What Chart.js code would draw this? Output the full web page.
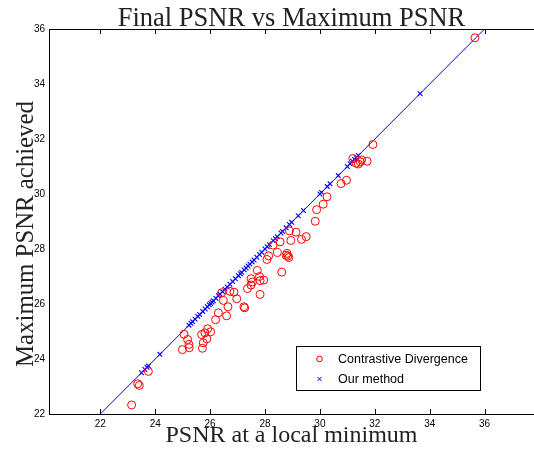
<!DOCTYPE html>
<html>
<head>
<meta charset="utf-8">
<script src="https://cdn.jsdelivr.net/npm/chart.js@4.4.1/dist/chart.umd.min.js"></script>
<style>
  html, body { margin: 0; padding: 0; background: #fff; }
  canvas { display: block; }
</style>
</head>
<body>
<canvas id="c" width="534" height="449"></canvas>
<script>
// ---- Data ----
const chartTitle = 'Final PSNR vs Maximum PSNR';
const xAxisTitle = 'PSNR at a local minimum';
const yAxisTitle = 'Maximum PSNR achieved';
const seriesNames = ['Contrastive Divergence', 'Our method'];

// Contrastive Divergence: PSNR at local minimum (x) and max PSNR achieved (y)
const cdFinal = [23.14, 23.36, 23.42, 23.75, 24.99, 25.05, 25.18, 25.23, 25.24, 25.69, 25.72, 25.75, 25.81, 25.88, 25.91, 26.02,
  26.20, 26.30, 26.60, 26.65, 26.42, 26.48, 26.72, 26.87, 26.97, 27.23, 27.26, 27.36, 27.49, 27.49, 27.54,
  27.72, 27.82, 27.82, 27.80, 27.95, 28.07, 28.13, 28.45, 28.61, 28.77, 28.83, 28.87, 28.80,
  28.29, 28.55, 28.89, 29.13, 28.94, 29.33, 29.50, 29.83, 29.88, 30.12, 30.26, 30.77, 30.97,
  31.20, 31.32, 31.40, 31.47, 31.52, 31.72, 31.93, 35.65];
const cdMax = [22.33, 23.10, 23.04, 23.55, 24.34, 24.90, 24.71, 24.53, 24.41, 24.89, 24.39, 24.59, 24.95, 24.73, 25.10, 24.99,
  25.43, 25.68, 25.57, 25.90, 26.41, 26.13, 26.46, 26.43, 26.19, 25.90, 25.86, 26.56, 26.69, 26.92, 26.80,
  27.22, 26.35, 26.85, 27.00, 26.87, 27.62, 27.75, 27.87, 27.16, 27.77, 27.74, 27.69, 27.84,
  28.14, 28.26, 28.66, 28.61, 28.31, 28.35, 28.45, 29.01, 29.43, 29.63, 29.90, 30.38, 30.50,
  31.29, 31.12, 31.09, 31.17, 31.24, 31.19, 31.80, 35.68];

// Our method: final PSNR equals the maximum reached
const ourFinal = [23.50, 23.62, 23.70, 23.75, 24.17, 25.23, 25.30, 25.36, 25.45, 25.55, 25.62, 25.73, 25.82, 25.90, 25.97,
  26.02, 26.07, 26.12, 26.21, 26.30, 26.36, 26.45, 26.54, 26.62, 26.72, 26.82, 26.92, 27.03, 27.10, 27.15, 27.24,
  27.31, 27.38, 27.45, 27.53, 27.60, 27.70, 27.80, 27.88, 28.00, 28.08, 28.16, 28.30, 28.38, 28.45, 28.58, 28.64,
  28.77, 28.89, 28.97, 29.21, 29.40, 30.00, 30.06, 30.27, 30.37, 30.67, 31.00, 31.10, 31.19, 31.26, 31.32, 31.40, 33.65];
const ourMax = ourFinal.slice();

// Reference line y = x
const refLine = [22, 36];

const xTickValues = [22, 24, 26, 28, 30, 32, 34, 36];
const yTickValues = [22, 24, 26, 28, 30, 32, 34, 36];

// ---- Styling ----
const SERIF = '"Liberation Serif", "Times New Roman", Times, serif';
const SANS = '"Liberation Sans", Arial, Helvetica, sans-serif';
const RED = '#ff0000';
const BLUE = '#0000ff';

const toPts = (xs, ys) => xs.map((x, i) => ({ x: x, y: ys[i] }));

const framePlugin = {
  id: 'frame',
  afterDatasetsDraw(chart) {
    const { ctx, chartArea: a, scales } = chart;
    ctx.save();
    ctx.strokeStyle = '#000';
    ctx.lineWidth = 1;
    ctx.beginPath();
    // top border
    ctx.moveTo(a.left, a.top + 0.5);
    ctx.lineTo(a.right, a.top + 0.5);
    // inward ticks on bottom and top
    xTickValues.forEach(v => {
      const px = Math.round(scales.x.getPixelForValue(v)) + 0.5;
      ctx.moveTo(px, a.bottom);
      ctx.lineTo(px, a.bottom - 5);
      ctx.moveTo(px, a.top);
      ctx.lineTo(px, a.top + 5);
    });
    ctx.stroke();
    ctx.restore();
  },
  afterDraw(chart) {
    const { ctx } = chart;
    ctx.save();
    // y axis title
    ctx.fillStyle = '#222';
    ctx.font = '24.8px ' + SERIF;
    ctx.textAlign = 'center';
    ctx.textBaseline = 'alphabetic';
    ctx.translate(33, 234);
    ctx.rotate(-Math.PI / 2);
    ctx.fillText(yAxisTitle, 0, 0);
    ctx.restore();

    // legend
    ctx.save();
    const bx = 296.5, by = 346.5, bw = 184, bh = 44;
    ctx.fillStyle = '#fff';
    ctx.fillRect(bx, by, bw, bh);
    ctx.strokeStyle = '#000';
    ctx.lineWidth = 1;
    ctx.strokeRect(bx, by, bw, bh);
    ctx.font = '12.5px ' + SANS;
    ctx.fillStyle = '#000';
    ctx.textAlign = 'left';
    ctx.textBaseline = 'middle';
    const ds = chart.data.datasets;
    ctx.strokeStyle = RED;
    ctx.beginPath();
    ctx.arc(319.5, 359, 2.8, 0, Math.PI * 2);
    ctx.stroke();
    ctx.fillText(ds[0].label, 338, 359.5);
    ctx.strokeStyle = BLUE;
    ctx.beginPath();
    ctx.moveTo(317.5, 377); ctx.lineTo(321.5, 381);
    ctx.moveTo(321.5, 377); ctx.lineTo(317.5, 381);
    ctx.stroke();
    ctx.fillText(ds[1].label, 338, 379.5);
    ctx.restore();
  }
};

new Chart(document.getElementById('c'), {
  type: 'scatter',
  data: {
    datasets: [
      {
        label: seriesNames[0],
        data: toPts(cdFinal, cdMax),
        pointStyle: 'circle',
        pointRadius: 4,
        pointBorderWidth: 1,
        borderColor: RED,
        backgroundColor: 'rgba(0,0,0,0)',
        pointBackgroundColor: 'rgba(0,0,0,0)',
        pointBorderColor: RED,
        showLine: false
      },
      {
        label: seriesNames[1],
        data: toPts(ourFinal, ourMax),
        pointStyle: 'crossRot',
        pointRadius: 3.3,
        pointBorderWidth: 1.1,
        borderColor: BLUE,
        pointBorderColor: BLUE,
        backgroundColor: BLUE,
        showLine: false
      },
      {
        label: 'y = x',
        data: toPts(refLine, refLine),
        showLine: true,
        borderColor: BLUE,
        borderWidth: 1,
        pointRadius: 0,
        fill: false
      }
    ]
  },
  options: {
    responsive: false,
    animation: false,
    devicePixelRatio: 1,
    layout: { padding: 0, autoPadding: false },
    plugins: {
      legend: { display: false },
      tooltip: { enabled: false },
      title: {
        display: true,
        text: chartTitle,
        color: '#222',
        fullSize: false,
        font: { family: SERIF, size: 26.5, weight: 'normal', lineHeight: 1 },
        padding: { top: 6, bottom: -3.5 }
      }
    },
    scales: {
      x: {
        type: 'linear',
        position: 'bottom',
        min: 20.13,
        max: 37.8,
        afterBuildTicks: s => { s.ticks = xTickValues.map(v => ({ value: v })); },
        afterFit: s => { s.height = 35; s.paddingLeft = 0; s.paddingRight = 0; },
        grid: { display: false, drawTicks: false },
        border: { display: true, color: '#000', width: 1 },
        ticks: {
          color: '#000',
          font: { family: SANS, size: 10 },
          padding: 4,
          maxRotation: 0,
          autoSkip: false,
          callback: v => String(v)
        },
        title: {
          display: true,
          text: xAxisTitle,
          color: '#222',
          font: { family: SERIF, size: 24, weight: 'normal', lineHeight: 1.08 },
          padding: 0
        }
      },
      y: {
        type: 'linear',
        position: 'left',
        min: 22,
        max: 36,
        afterBuildTicks: s => { s.ticks = yTickValues.map(v => ({ value: v })); },
        afterFit: s => { s.width = 49; },
        grid: { display: false, drawTicks: false },
        border: { display: true, color: '#000', width: 1 },
        ticks: {
          color: '#000',
          font: { family: SANS, size: 10 },
          padding: 4,
          callback: v => String(v)
        }
      }
    }
  },
  plugins: [framePlugin]
});
</script>
</body>
</html>
